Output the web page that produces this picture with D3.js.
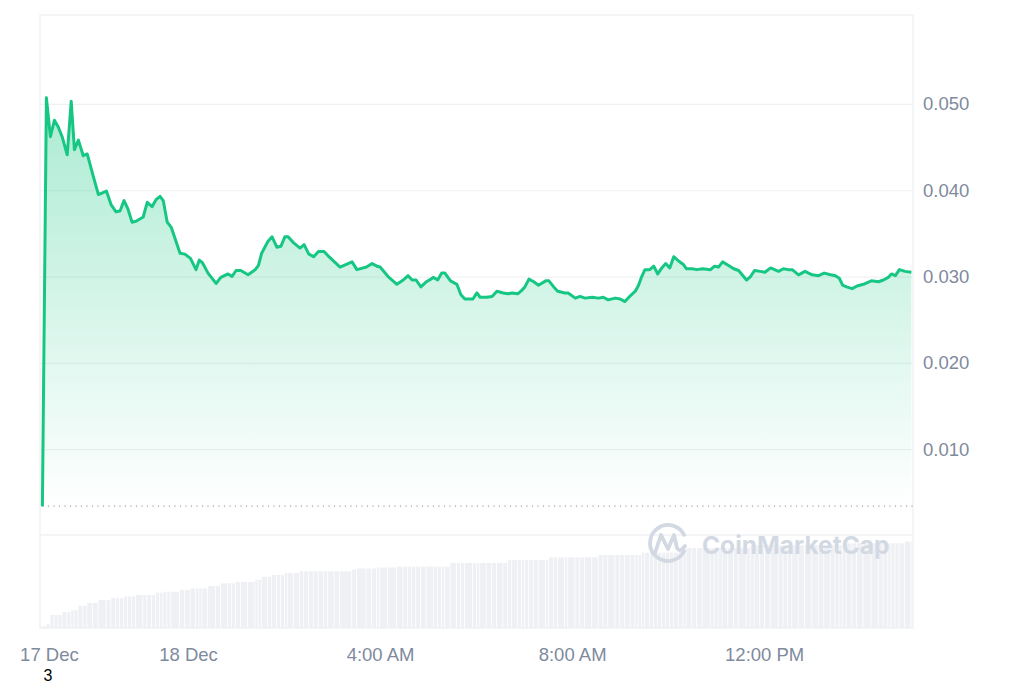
<!DOCTYPE html>
<html>
<head>
<meta charset="utf-8">
<script src="https://cdn.jsdelivr.net/npm/d3@7"></script>
<style>
  html, body { margin: 0; padding: 0; background: #ffffff; }
  svg { display: block; font-family: "Liberation Sans", Arial, sans-serif; }
</style>
</head>
<body>
<svg id="chart" width="1024" height="683"></svg>
<script>
// ---- data ----
const times = [
  "12-17 20:58","12-17 21:03","12-17 21:08","12-17 21:13","12-17 21:18","12-17 21:23","12-17 21:29","12-17 21:34","12-17 21:38","12-17 21:43",
  "12-17 21:49","12-17 21:54","12-17 22:01","12-17 22:08","12-17 22:18","12-17 22:24","12-17 22:30","12-17 22:35","12-17 22:40","12-17 22:45",
  "12-17 22:50","12-17 22:55","12-17 23:04","12-17 23:09","12-17 23:15","12-17 23:20","12-17 23:25","12-17 23:29","12-17 23:34","12-17 23:39",
  "12-17 23:50","12-17 23:56","12-18 00:03","12-18 00:10","12-18 00:14","12-18 00:18","12-18 00:25","12-18 00:35","12-18 00:41","12-18 00:50",
  "12-18 00:55","12-18 01:00","12-18 01:06","12-18 01:15","12-18 01:24","12-18 01:28","12-18 01:32","12-18 01:40","12-18 01:45","12-18 01:51",
  "12-18 01:56","12-18 02:01","12-18 02:05","12-18 02:12","12-18 02:20","12-18 02:25","12-18 02:31","12-18 02:37","12-18 02:43","12-18 02:50",
  "12-18 02:55","12-18 03:03","12-18 03:10","12-18 03:25","12-18 03:31","12-18 03:43","12-18 03:50","12-18 03:56","12-18 04:00","12-18 04:10",
  "12-18 04:21","12-18 04:29","12-18 04:35","12-18 04:40","12-18 04:45","12-18 04:51","12-18 04:58","12-18 05:07","12-18 05:12","12-18 05:17",
  "12-18 05:21","12-18 05:28","12-18 05:36","12-18 05:41","12-18 05:46","12-18 05:56","12-18 06:01","12-18 06:05","12-18 06:13","12-18 06:20",
  "12-18 06:26","12-18 06:34","12-18 06:40","12-18 06:45","12-18 06:52","12-18 06:57","12-18 07:01","12-18 07:06","12-18 07:12","12-18 07:18",
  "12-18 07:27","12-18 07:31","12-18 07:37","12-18 07:42","12-18 07:51","12-18 07:55","12-18 08:04","12-18 08:10","12-18 08:16","12-18 08:25",
  "12-18 08:33","12-18 08:39","12-18 08:45","12-18 08:54","12-18 09:00","12-18 09:06","12-18 09:13","12-18 09:19","12-18 09:23","12-18 09:27",
  "12-18 09:31","12-18 09:37","12-18 09:42","12-18 09:47","12-18 09:52","12-18 09:57","12-18 10:02","12-18 10:07","12-18 10:13","12-18 10:19",
  "12-18 10:23","12-18 10:30","12-18 10:36","12-18 10:43","12-18 10:53","12-18 10:58","12-18 11:03","12-18 11:08","12-18 11:15","12-18 11:22",
  "12-18 11:28","12-18 11:38","12-18 11:43","12-18 11:48","12-18 11:55","12-18 12:01","12-18 12:08","12-18 12:18","12-18 12:24","12-18 12:30",
  "12-18 12:35","12-18 12:43","12-18 12:51","12-18 13:00","12-18 13:08","12-18 13:15","12-18 13:23","12-18 13:29","12-18 13:34","12-18 13:38",
  "12-18 13:43","12-18 13:50","12-18 13:56","12-18 14:04","12-18 14:14","12-18 14:23","12-18 14:29","12-18 14:35","12-18 14:39","12-18 14:44",
  "12-18 14:49","12-18 14:56","12-18 15:04"
];
const prices = [
  0.0034,0.0507,0.0462,0.0481,0.0473,0.0461,0.0441,0.0503,0.0447,0.0458,
  0.0440,0.0442,0.0418,0.0395,0.0399,0.0383,0.0375,0.0376,0.0388,0.0378,
  0.0363,0.0364,0.0369,0.0386,0.0381,0.0389,0.0393,0.0388,0.0363,0.0357,
  0.0327,0.0326,0.0321,0.0308,0.0319,0.0316,0.0304,0.0292,0.0299,0.0303,
  0.0300,0.0307,0.0307,0.0302,0.0308,0.0313,0.0327,0.0341,0.0346,0.0334,
  0.0335,0.0346,0.0346,0.0339,0.0333,0.0337,0.0326,0.0323,0.0329,0.0329,
  0.0324,0.0317,0.0311,0.0317,0.0308,0.0311,0.0315,0.0312,0.0311,0.0300,
  0.0291,0.0296,0.0301,0.0296,0.0296,0.0288,0.0294,0.0299,0.0296,0.0304,
  0.0304,0.0295,0.0291,0.0279,0.0274,0.0274,0.0281,0.0276,0.0276,0.0277,
  0.0283,0.0281,0.0280,0.0281,0.0280,0.0284,0.0288,0.0297,0.0294,0.0290,
  0.0295,0.0295,0.0288,0.0283,0.0281,0.0281,0.0275,0.0277,0.0275,0.0276,
  0.0275,0.0276,0.0273,0.0275,0.0274,0.0271,0.0278,0.0283,0.0290,0.0300,
  0.0308,0.0308,0.0312,0.0303,0.0310,0.0315,0.0310,0.0323,0.0318,0.0314,
  0.0309,0.0309,0.0308,0.0309,0.0308,0.0312,0.0311,0.0317,0.0313,0.0309,
  0.0307,0.0296,0.0300,0.0307,0.0306,0.0305,0.0310,0.0306,0.0309,0.0308,
  0.0308,0.0302,0.0306,0.0302,0.0301,0.0304,0.0302,0.0301,0.0298,0.0290,
  0.0288,0.0286,0.0289,0.0291,0.0295,0.0294,0.0296,0.0299,0.0303,0.0301,
  0.0308,0.0306,0.0305
];
// volume (relative units, 0-100)
const volumes = [
  2,4,14,14,14,17,17,19,19,24,
  24,27,27,30,30,32,32,32,34,34,
  34,35.5,35.5,35.5,35.5,38,38,39,39,39,
  41,41,42.5,42.5,42.5,42.5,45,45,48,48,
  48,49.5,49.5,49.5,52,52,55,55,57,57,
  57,59,59,59,61,61,61,61,61,61,
  61,61,61,63,64,64,64,65,65,65,
  66,66,66,66,66,66,66,66,66,66,
  66,70,70,70,70,70,70,70,70,70,
  70,70,73,73,73,73,73,73,73,73,
  73,76,76,76,76,76,76,76,76,76,
  78.5,78.5,78.5,78.5,78.5,78.5,78.5,78.5,78.5,81,
  81,81,81,81,81,81,81,81,86,86,
  86,86,86,86,86,86,86,86,86,86,
  86,86,89,89,89,89,89,89,89,89,
  89,89,89,89,89,89,89,89,89,89,
  91,91,91,91,91,91,91,91,91,91,
  91,93,93
];
const openPrice = 0.0034;
const priceTicks = [0.010, 0.020, 0.030, 0.040, 0.050];
const timeTicks = ["12-17 20:58", "12-18 00:00", "12-18 04:00", "12-18 08:00", "12-18 12:00"];
const timeTickLabels = ["17 Dec", "18 Dec", "4:00 AM", "8:00 AM", "12:00 PM"];
const domainStart = "12-17 20:55";
const domainEnd = "12-18 15:06";

// ---- layout ----
const parse = d3.timeParse("%m-%d %H:%M");
const data = times.map((t, i) => ({ t: parse(t), p: prices[i], v: volumes[i] }));
const plotL = 40, plotR = 913, plotT = 15, priceBottom = 535.5, volTop = 535, volBottom = 628;
const labelFont = "'Liberation Sans', Arial, sans-serif";
const labelColor = "#808a9d";

const svg = d3.select("#chart");
const x = d3.scaleTime().domain([parse(domainStart), parse(domainEnd)]).range([plotL, plotR]);
const y = d3.scaleLinear().domain([0, 0.0603]).range([priceBottom, plotT]);
const yv = d3.scaleLinear().domain([0, 100]).range([volBottom, volTop]);

// gradient
const defs = svg.append("defs");
const grad = defs.append("linearGradient").attr("id", "areaGrad")
  .attr("gradientUnits", "userSpaceOnUse")
  .attr("x1", 0).attr("x2", 0)
  .attr("y1", y(d3.max(prices))).attr("y2", y(openPrice));
grad.append("stop").attr("offset", "0%").attr("stop-color", "#16c784").attr("stop-opacity", 0.36);
grad.append("stop").attr("offset", "100%").attr("stop-color", "#16c784").attr("stop-opacity", 0.0);

// frame
const frameColor = "#eff2f5";
svg.append("rect").attr("x", plotL).attr("y", plotT).attr("width", plotR - plotL).attr("height", volBottom - plotT)
  .attr("fill", "none").attr("stroke", frameColor).attr("stroke-width", 1.5);
svg.append("line").attr("x1", plotL).attr("x2", plotR).attr("y1", volTop).attr("y2", volTop)
  .attr("stroke", frameColor).attr("stroke-width", 1.5);

// grid + y labels
const yAxis = d3.axisRight(y).tickValues(priceTicks).tickSize(-(plotR - plotL)).tickFormat(d3.format(".3f"));
const gy = svg.append("g").attr("transform", `translate(${plotR},0)`).call(yAxis);
gy.select(".domain").remove();
gy.selectAll(".tick line").attr("stroke", frameColor).attr("stroke-width", 1.2);
gy.selectAll(".tick text").attr("x", 10).attr("fill", labelColor)
  .style("font-size", "18.5px").style("font-family", labelFont);

// volume bars
const vol = svg.append("g");
vol.selectAll("rect").data(data).join("rect")
  .attr("x", d => x(d.t))
  .attr("width", (d, i) => {
    const next = i < data.length - 1 ? x(data[i + 1].t) : plotR;
    return Math.max(1, next - x(d.t) - 0.8);
  })
  .attr("y", d => yv(d.v))
  .attr("height", d => volBottom - yv(d.v))
  .attr("fill", "#eef0f4");

// watermark
const wm = svg.append("g").attr("fill", "none").attr("stroke", "#d3d9e3").attr("stroke-width", 3.8).attr("stroke-linecap", "round");
wm.append("path").attr("d", d3.arc()({ innerRadius: 18, outerRadius: 18, startAngle: Math.PI * 0.62, endAngle: Math.PI * 2.38 }))
  .attr("transform", "translate(668,543)");
wm.append("path").attr("d", "M655,553 L661,535 L668,549 L674,535 L677,548 Q680,553 685,546")
  .attr("stroke-linejoin", "round");
svg.append("text").attr("x", 702).attr("y", 554).text("CoinMarketCap")
  .attr("fill", "#d3d9e3").style("font-size", "24.5px").style("font-weight", "700")
  .style("font-family", "Inter, 'Noto Sans', sans-serif");

// area + line
const area = d3.area().x(d => x(d.t)).y0(y(openPrice)).y1(d => y(d.p));
svg.append("path").datum(data).attr("d", area).attr("fill", "url(#areaGrad)");

// dotted open-price line
svg.append("line").attr("x1", x(data[0].t)).attr("x2", plotR)
  .attr("y1", y(openPrice)).attr("y2", y(openPrice))
  .attr("stroke", "#9aa3b3").attr("stroke-width", 1.2).attr("stroke-dasharray", "1.2,4.3");

const line = d3.line().x(d => x(d.t)).y(d => y(d.p));
svg.append("path").datum(data).attr("d", line).attr("fill", "none")
  .attr("stroke", "#16c784").attr("stroke-width", 3).attr("stroke-linejoin", "round");

// x axis labels
const xAxis = d3.axisBottom(x).tickValues(timeTicks.map(parse)).tickSize(0)
  .tickFormat((d, i) => timeTickLabels[i]);
const gx = svg.append("g").attr("transform", `translate(0,${volBottom})`).call(xAxis);
gx.select(".domain").remove();
gx.selectAll(".tick text").attr("y", 20).attr("fill", labelColor)
  .style("font-size", "18.5px").style("font-family", labelFont);
gx.selectAll(".tick").filter((d, i) => i === 0).select("text").attr("dx", 6.5);

// stray label
svg.append("text").attr("x", 48).attr("y", 681).attr("text-anchor", "middle")
  .attr("fill", "#000").style("font-size", "16px").style("font-family", labelFont).text("3");
</script>
</body>
</html>
